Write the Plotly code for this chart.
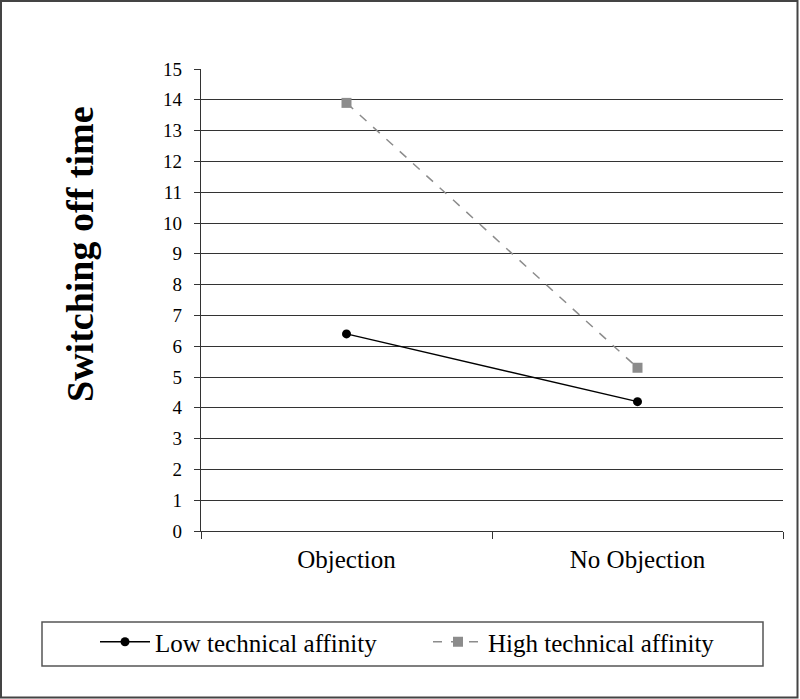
import plotly.graph_objects as go

categories = ["Objection", "No Objection"]
low_affinity = [6.4, 4.2]
high_affinity = [13.9, 5.3]
y_ticks = list(range(0, 16))

FONT = "Liberation Serif"

fig = go.Figure()
fig.add_trace(go.Scatter(
    x=categories, y=low_affinity, name="Low technical affinity",
    mode="lines+markers",
    line=dict(color="#000000", width=1.5),
    marker=dict(symbol="circle", size=9, color="#000000"),
))
fig.add_trace(go.Scatter(
    x=categories, y=high_affinity, name="High technical affinity",
    mode="lines+markers",
    line=dict(color="#8c8c8c", width=1.5, dash="dash"),
    marker=dict(symbol="square", size=10, color="#8c8c8c"),
))

L, R, T, B = 201, 17, 69, 168
W, H = 800, 699
pw = W - L - R
ph = H - T - B

def px_x(p):
    return (p - L) / pw

def px_y(p):
    return (H - B - p) / ph

fig.update_layout(
    width=W, height=H,
    margin=dict(l=L, r=R, t=T, b=B, autoexpand=False),
    paper_bgcolor="white", plot_bgcolor="white",
    font=dict(family=FONT, color="#000000", size=18),
    showlegend=True,
    legend=dict(
        orientation="h",
        x=px_x(95), y=px_y(619), xanchor="left", yanchor="top",
        bgcolor="rgba(0,0,0,0)", borderwidth=0,
        font=dict(family=FONT, size=25, color="#000000"),
        entrywidth=268, entrywidthmode="pixels",
        itemwidth=50,
    ),
    xaxis=dict(
        type="category", range=[-0.5, 1.5],
        showgrid=False, showline=True, linecolor="#333333", linewidth=1.2,
        ticks="outside", tickson="boundaries", ticklen=7, tickcolor="#333333",
        tickfont=dict(family=FONT, size=25),
        ticklabelstandoff=6,
        zeroline=False,
    ),
    yaxis=dict(
        range=[0, 15], tickvals=y_ticks,
        showgrid=True, gridcolor="#333333", gridwidth=1.2,
        showline=True, linecolor="#333333", linewidth=1.2,
        ticks="outside", ticklen=6, tickcolor="#333333",
        tickfont=dict(family=FONT, size=19),
        ticklabelstandoff=8,
        zeroline=False,
    ),
    annotations=[
        dict(text="<b>Switching off time</b>", xref="paper", yref="paper",
             x=px_x(80), y=px_y(254), xanchor="center", yanchor="middle",
             textangle=-90, showarrow=False,
             font=dict(family=FONT, size=38, color="#000000")),
    ],
    shapes=[
        dict(type="rect", xref="paper", yref="paper",
             x0=px_x(42), x1=px_x(763), y0=px_y(666), y1=px_y(622),
             line=dict(color="#555555", width=1.5), fillcolor="rgba(0,0,0,0)", layer="below"),
        dict(type="rect", xref="paper", yref="paper",
             x0=px_x(1), x1=px_x(797.5), y0=px_y(697.5), y1=px_y(1),
             line=dict(color="#444444", width=2), fillcolor="rgba(0,0,0,0)", layer="below"),
    ],
)

fig.write_html(
    "out.html",
    config={"displayModeBar": False},
    post_script="document.body.style.margin='0';document.body.style.padding='0';",
)
